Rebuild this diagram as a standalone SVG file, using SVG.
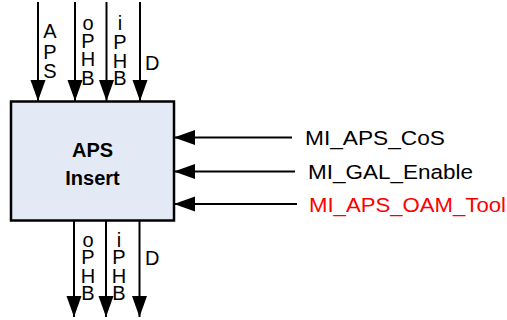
<svg xmlns="http://www.w3.org/2000/svg" width="507" height="320" viewBox="0 0 507 320">
<defs>
<marker id="ah" markerUnits="userSpaceOnUse" markerWidth="22" markerHeight="16" refX="21" refY="7.5" orient="auto">
<path d="M0,0 L21,7.5 L0,15 Z" fill="#000"/>
</marker>
<style>
.ln{stroke:#000;stroke-width:2;fill:none;marker-end:url(#ah)}
.lbl{font-family:"Liberation Sans",Arial,sans-serif;font-size:20px;fill:#000}
.vl{font-family:"Liberation Sans",Arial,sans-serif;font-size:20px;fill:#000;text-anchor:middle}
.box{fill:#E4EAF5;stroke:#000;stroke-width:2.5}
.title{font-family:"Liberation Sans",Arial,sans-serif;font-size:20px;font-weight:bold;fill:#000;text-anchor:middle}
</style>
</defs>
<g id="connectors">
<line class="ln" x1="38" y1="2" x2="38" y2="101"/>
<line class="ln" x1="75" y1="2" x2="75" y2="101"/>
<line class="ln" x1="106.5" y1="2" x2="106.5" y2="101"/>
<line class="ln" x1="140" y1="2" x2="140" y2="101"/>
<line class="ln" x1="74" y1="221" x2="74" y2="317"/>
<line class="ln" x1="106" y1="221" x2="106" y2="317"/>
<line class="ln" x1="139.5" y1="221" x2="139.5" y2="317"/>
<line class="ln" x1="292" y1="137.5" x2="174" y2="137.5"/>
<line class="ln" x1="295" y1="171.5" x2="174" y2="171.5"/>
<line class="ln" x1="297" y1="204" x2="174" y2="204"/>
<text class="vl" x="50"><tspan x="50" y="38">A</tspan><tspan x="50" y="59">P</tspan><tspan x="50" y="78">S</tspan></text>
<text class="vl" x="88"><tspan x="88" y="30">o</tspan><tspan x="88" y="48">P</tspan><tspan x="88" y="66">H</tspan><tspan x="88" y="85">B</tspan></text>
<text class="vl" x="120"><tspan x="120" y="30">i</tspan><tspan x="120" y="49">P</tspan><tspan x="120" y="68">H</tspan><tspan x="120" y="85">B</tspan></text>
<text class="lbl" x="145" y="70">D</text>
<text class="vl" x="88"><tspan x="88" y="247">o</tspan><tspan x="88" y="264">P</tspan><tspan x="88" y="283">H</tspan><tspan x="88" y="300">B</tspan></text>
<text class="vl" x="119"><tspan x="119" y="247">i</tspan><tspan x="119" y="264">P</tspan><tspan x="119" y="283">H</tspan><tspan x="119" y="300">B</tspan></text>
<text class="lbl" x="145" y="265">D</text>
<text class="lbl" x="305" y="144.5" textLength="140" lengthAdjust="spacingAndGlyphs">MI_APS_CoS</text>
<text class="lbl" x="308" y="178.5" textLength="165" lengthAdjust="spacingAndGlyphs">MI_GAL_Enable</text>
<text class="lbl" x="309" y="211.5" textLength="197" lengthAdjust="spacingAndGlyphs" style="fill:#FF0000">MI_APS_OAM_Tool</text>
</g>
<g id="aps-insert">
<rect class="box" x="11" y="101.5" width="163" height="119"/>
<text class="title" x="92.5" y="157">APS</text>
<text class="title" x="92.5" y="185">Insert</text>
</g>
</svg>
